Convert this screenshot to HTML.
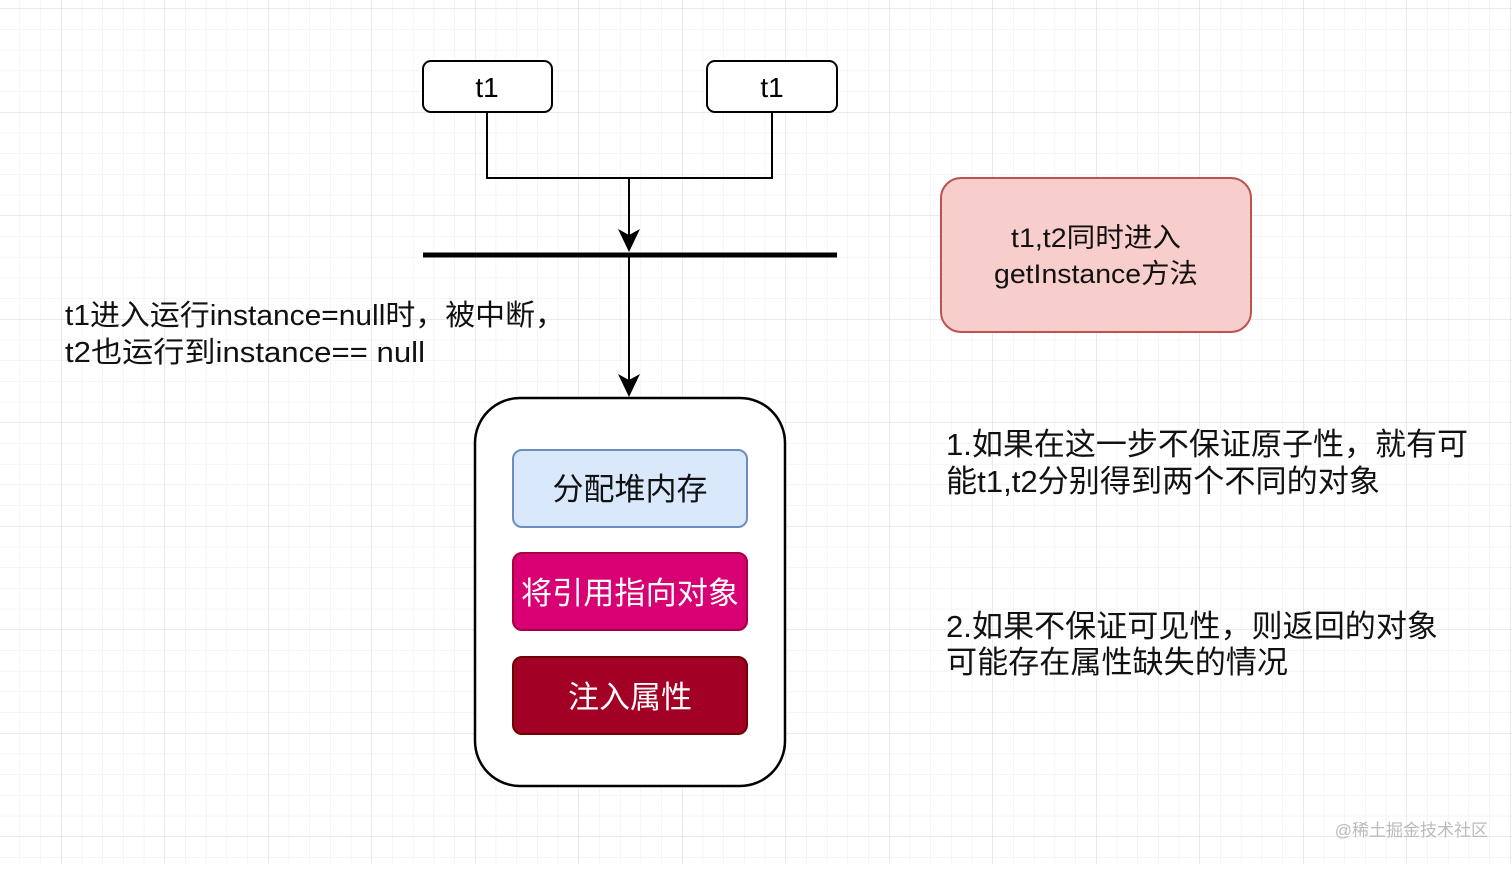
<!DOCTYPE html>
<html><head><meta charset="utf-8"><style>
html,body{margin:0;padding:0;background:#fff}
svg text{font-family:"Liberation Sans","Noto Sans CJK SC",sans-serif}
</style></head><body>
<svg width="1512" height="864" viewBox="0 0 1512 864" xmlns="http://www.w3.org/2000/svg">
<defs>
<pattern id="minor" x="61" y="8.5" width="20.7" height="20.7" patternUnits="userSpaceOnUse">
<path d="M0 0H20.7M0 0V20.7" stroke="#ebebeb" stroke-width="1" fill="none"/>
</pattern>
<pattern id="major" x="61" y="8.5" width="103.5" height="103.5" patternUnits="userSpaceOnUse">
<path d="M0 0H103.5M0 0V103.5" stroke="#d6d6d6" stroke-width="1" fill="none"/>
</pattern>
</defs>
<rect width="1512" height="864" fill="url(#minor)"/>
<rect width="1512" height="864" fill="url(#major)"/>

<rect x="423" y="61" width="129" height="51" rx="8" fill="#fff" stroke="#000" stroke-width="2"/>
<text x="487" y="97" font-size="28" text-anchor="middle">t1</text>
<rect x="707" y="61" width="130" height="51" rx="8" fill="#fff" stroke="#000" stroke-width="2"/>
<text x="772" y="97" font-size="28" text-anchor="middle">t1</text>

<path d="M487 112V178H772V112" fill="none" stroke="#000" stroke-width="2"/>
<path d="M629 178V240" stroke="#000" stroke-width="2"/>
<path d="M618 229L629 252L640 229L629 235Z" fill="#000"/>
<path d="M423 255H837" stroke="#000" stroke-width="5"/>
<path d="M629 255V385" stroke="#000" stroke-width="2"/>
<path d="M618 374L629 397L640 374L629 380Z" fill="#000"/>

<text font-size="29" fill="#111" lengthAdjust="spacingAndGlyphs"><tspan x="65" y="325" textLength="500" lengthAdjust="spacingAndGlyphs">t1进入运行instance=null时，被中断，</tspan><tspan x="65" y="362" textLength="360" lengthAdjust="spacingAndGlyphs">t2也运行到instance== null</tspan></text>

<rect x="941" y="178" width="310" height="154" rx="20" fill="#f8cecc" stroke="#b85450" stroke-width="2"/>
<text font-size="27" fill="#111"><tspan x="1011" y="247" textLength="170" lengthAdjust="spacingAndGlyphs">t1,t2同时进入</tspan><tspan x="994" y="283" textLength="204" lengthAdjust="spacingAndGlyphs">getInstance方法</tspan></text>

<rect x="475" y="398" width="310" height="388" rx="45" fill="#fff" stroke="#000" stroke-width="2.5"/>
<rect x="513" y="450" width="234" height="77" rx="9" fill="#dae8fc" stroke="#6c8ebf" stroke-width="2"/>
<text x="630" y="500" font-size="31" text-anchor="middle" fill="#111">分配堆内存</text>
<rect x="513" y="553" width="234" height="77" rx="9" fill="#d80073" stroke="#a50040" stroke-width="2"/>
<text x="630" y="604" font-size="31" text-anchor="middle" fill="#fff" textLength="218" lengthAdjust="spacingAndGlyphs">将引用指向对象</text>
<rect x="513" y="657" width="234" height="77" rx="9" fill="#a20025" stroke="#6f0000" stroke-width="2"/>
<text x="630" y="708" font-size="31" text-anchor="middle" fill="#fff">注入属性</text>

<text font-size="31" fill="#111"><tspan x="946" y="455" textLength="522" lengthAdjust="spacingAndGlyphs">1.如果在这一步不保证原子性，就有可</tspan><tspan x="946" y="492" textLength="434" lengthAdjust="spacingAndGlyphs">能t1,t2分别得到两个不同的对象</tspan></text>
<text font-size="31" fill="#111"><tspan x="946" y="637" textLength="492" lengthAdjust="spacingAndGlyphs">2.如果不保证可见性，则返回的对象</tspan><tspan x="946" y="673" textLength="342" lengthAdjust="spacingAndGlyphs">可能存在属性缺失的情况</tspan></text>

<text x="1488" y="836" font-size="17" text-anchor="end" fill="#bbb">@稀土掘金技术社区</text>
</svg>
</body></html>
